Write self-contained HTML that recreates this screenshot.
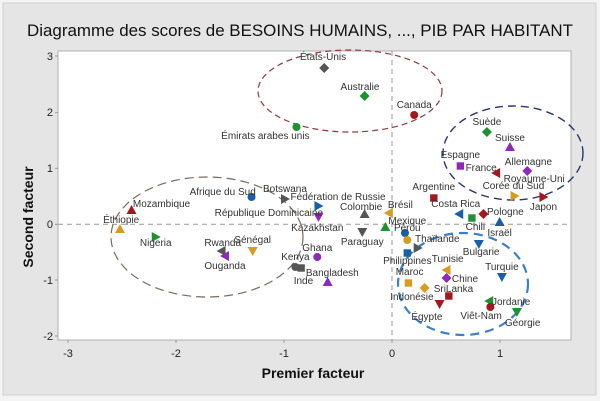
<!DOCTYPE html>
<html><head><meta charset="utf-8"><style>
html,body{margin:0;padding:0;background:#fff;}
svg{display:block;font-family:"Liberation Sans",sans-serif;}
</style></head><body>
<svg id="s" width="600" height="401" viewBox="0 0 600 401" xmlns="http://www.w3.org/2000/svg">
<rect x="0" y="0" width="600" height="401" fill="#f4f4f4"/>
<rect x="3" y="3" width="593" height="392" fill="#e5e5e5" stroke="#d0d0d0"/>
<text x="300" y="36" font-size="17" fill="#111" text-anchor="middle" textLength="546" lengthAdjust="spacingAndGlyphs">Diagramme des scores de BESOINS HUMAINS, ..., PIB PAR HABITANT</text>
<rect x="58" y="51" width="513" height="289" fill="#fff" stroke="#b0b0b0"/>
<line x1="392" y1="51" x2="392" y2="340" stroke="#999" stroke-dasharray="5,4"/>
<line x1="58" y1="224.3" x2="571" y2="224.3" stroke="#999" stroke-dasharray="5,4"/>
<g stroke="#888" fill="none">
<ellipse cx="350" cy="91" rx="92" ry="41" stroke="#8b3a3a" stroke-width="1.2" stroke-dasharray="6,4"/>
<ellipse cx="513" cy="153" rx="70" ry="47" stroke="#2a3570" stroke-width="1.4" stroke-dasharray="8,5"/>
<ellipse cx="207" cy="237" rx="96" ry="60" stroke="#7a6a5e" stroke-width="1.2" stroke-dasharray="9,5"/>
<ellipse cx="463" cy="284" rx="65" ry="51" stroke="#3d7fc4" stroke-width="2.2" stroke-dasharray="9,6"/>
</g>
<g font-size="11" fill="#222" text-anchor="end">
<text x="53" y="60">3</text><text x="53" y="116">2</text><text x="53" y="172">1</text><text x="53" y="228">0</text><text x="53" y="284">-1</text><text x="53" y="340">-2</text>
</g>
<g font-size="11" fill="#222" text-anchor="middle">
<text x="68" y="357">-3</text><text x="176" y="357">-2</text><text x="284" y="357">-1</text><text x="392" y="357">0</text><text x="500" y="357">1</text>
</g>
<g stroke="#999">
<line x1="55" y1="56" x2="58" y2="56"/><line x1="55" y1="112.7" x2="58" y2="112.7"/><line x1="55" y1="168.3" x2="58" y2="168.3"/><line x1="55" y1="224.3" x2="58" y2="224.3"/><line x1="55" y1="280" x2="58" y2="280"/><line x1="55" y1="336" x2="58" y2="336"/>
<line x1="68" y1="340" x2="68" y2="343"/><line x1="176" y1="340" x2="176" y2="343"/><line x1="284" y1="340" x2="284" y2="343"/><line x1="392" y1="340" x2="392" y2="343"/><line x1="500" y1="340" x2="500" y2="343"/>
</g>
<text x="313" y="378" font-size="14" fill="#111" text-anchor="middle" font-weight="bold">Premier facteur</text>
<text transform="translate(33,217) rotate(-90)" font-size="14" fill="#111" text-anchor="middle" font-weight="bold">Second facteur</text>
<g id="pts"></g>
</svg>
<script>
var K=1.1538;
var C={r:"#a0191e",g:"#1e9130",b:"#1a5fa6",o:"#d79a22",p:"#8b2bb8",k:"#555555"};
// [markerX,markerY,shape,color,label,labelX,labelY]
var P=[
[281,68,"d","k","États-Unis",280,60],
[316,96,"d","g","Australie",312,90],
[359,115,"c","r","Canada",359,108],
[257,127,"c","g","Émirats arabes unis",230,139],
[422,132,"d","g","Suède",422,125],
[442,147,"u","p","Suisse",442,141],
[399,166,"s","p","Espagne",399,158],
[430,173,"l","r","France",417,171],
[457,171,"d","p","Allemagne",458,165],
[0,0,"n","k","Royaume-Uni",463,182],
[446,196,"rt","o","Corée du Sud",445,189],
[376,198,"s","r","Argentine",376,190],
[471,197,"rt","r","Japon",471,210],
[218,197,"c","b","Afrique du Sud",193,195],
[247,199,"rt","k","Botswana",247,192],
[276,206,"rt","b","Fédération de Russie",293,200],
[114,210,"u","r","Mozambique",140,207],
[104,229,"u","o","Éthiopie",105,223],
[316,214,"u","k","Colombie",313,210],
[337,213,"l","o","Brésil",347,208],
[276,217,"dn","p","République Dominicaine",233,216],
[398,214,"l","b","Costa Rica",395,207],
[409,218,"s","g","Chili",412,230],
[419,214,"d","r","Pologne",438,215],
[433,222,"u","b","Israël",433,236],
[334,227,"u","g","Mexique",353,224],
[0,0,"n","k","Kazakhstan",275,231],
[135,237,"rt","g","Nigeria",135,246],
[351,233,"c","b","Pérou",353,231],
[314,232,"dn","k","Paraguay",314,245],
[353,240,"c","o","Thaïlande",379,242],
[362,248,"rt","k","",0,0],
[192,251,"l","k","Rwanda",193,246],
[219,251,"dn","o","Sénégal",219,243],
[275,257,"c","p","Ghana",275,251],
[195,256,"l","p","Ouganda",195,269],
[415,244,"dn","b","Bulgarie",417,255],
[353,253,"s","b","Philippines",353,264],
[387,270,"l","o","Tunisie",388,262],
[256,267,"c","k","Kenya",256,260],
[261,268,"s","k","",0,0],
[435,277,"dn","b","Turquie",435,270],
[354,283,"s","o","Maroc",355,275],
[284,282,"u","p","Bangladesh",288,276],
[0,0,"n","k","Inde",263,284],
[387,278,"d","p","Chine",403,282],
[368,288,"d","o","SriLanka",393,292],
[0,0,"n","k","Indonésie",357,300],
[381,304,"dn","r","",0,0],
[389,296,"s","r","Égypte",370,320],
[424,301,"l","g","Jordanie",443,305],
[425,307,"c","r","Viêt-Nam",417,319],
[448,312,"dn","g","Géorgie",453,326]
];
var ns="http://www.w3.org/2000/svg",g=document.getElementById("pts"),h="";
P.forEach(function(p){
 var x=p[0]*K,y=p[1],f=C[p[3]],s=4;
 switch(p[2]){
 case "c":h+='<circle cx="'+x+'" cy="'+y+'" r="4" fill="'+f+'"/>';break;
 case "s":h+='<rect x="'+(x-3.7)+'" y="'+(y-3.7)+'" width="7.4" height="7.4" fill="'+f+'"/>';break;
 case "d":h+='<polygon points="'+x+','+(y-5)+' '+(x+5)+','+y+' '+x+','+(y+5)+' '+(x-5)+','+y+'" fill="'+f+'"/>';break;
 case "u":h+='<polygon points="'+x+','+(y-5)+' '+(x+5)+','+(y+4)+' '+(x-5)+','+(y+4)+'" fill="'+f+'"/>';break;
 case "dn":h+='<polygon points="'+x+','+(y+5)+' '+(x+5)+','+(y-4)+' '+(x-5)+','+(y-4)+'" fill="'+f+'"/>';break;
 case "l":h+='<polygon points="'+(x-5)+','+y+' '+(x+4)+','+(y-5)+' '+(x+4)+','+(y+5)+'" fill="'+f+'"/>';break;
 case "rt":h+='<polygon points="'+(x+5)+','+y+' '+(x-4)+','+(y-5)+' '+(x-4)+','+(y+5)+'" fill="'+f+'"/>';break;
 }
 if(p[4])h+='<text x="'+(p[5]*K)+'" y="'+p[6]+'" font-size="10" fill="#333" text-anchor="middle">'+p[4]+'</text>';
});
g.innerHTML=h;
</script>
</body></html>
